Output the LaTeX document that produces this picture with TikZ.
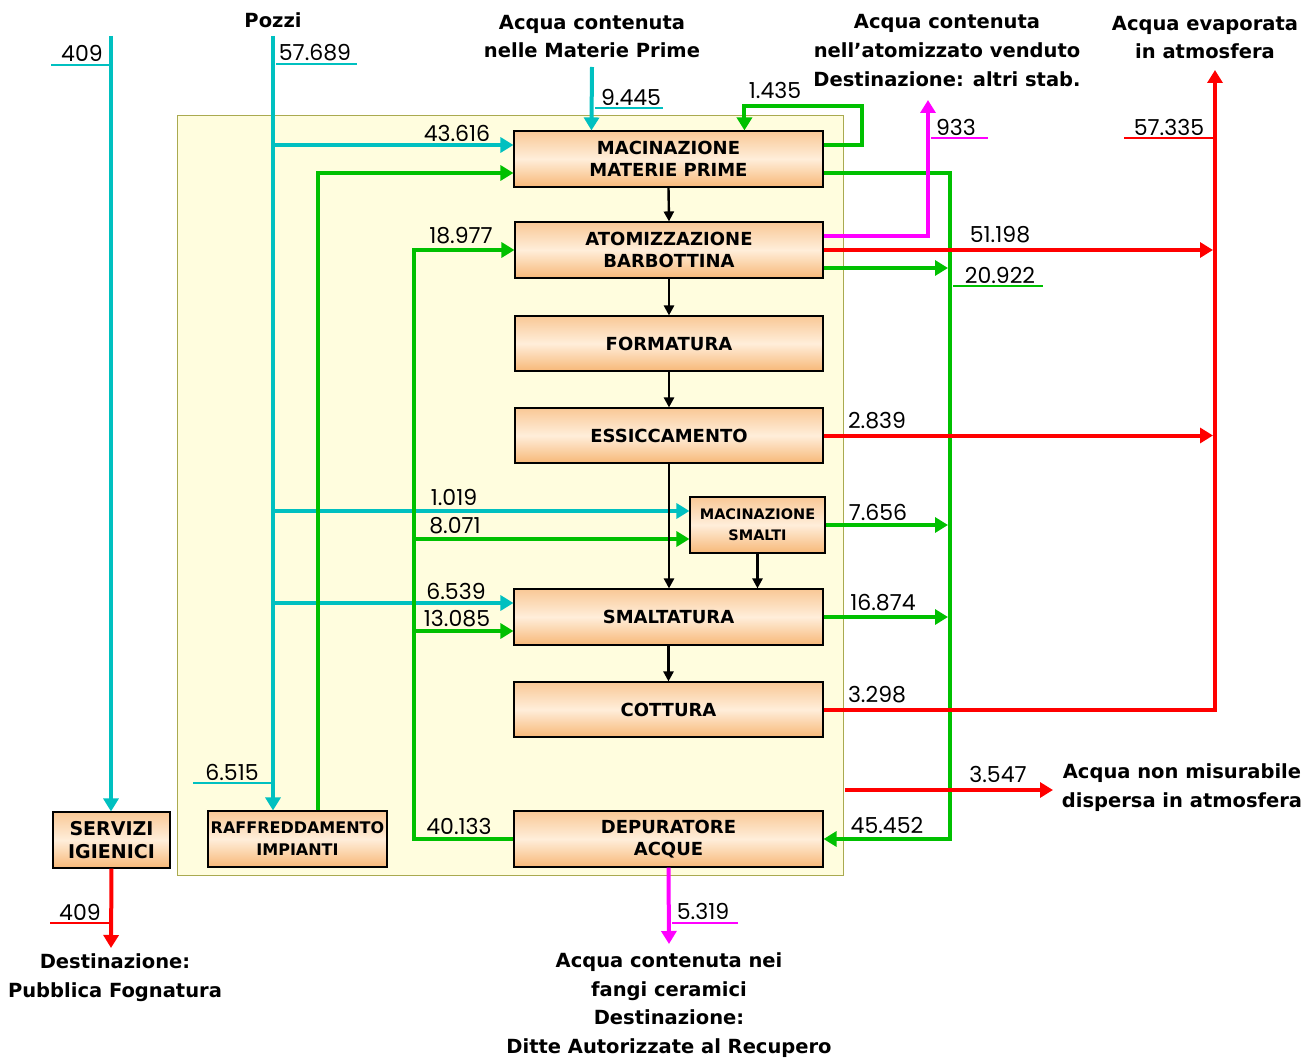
\documentclass[tikz,border=0pt]{standalone}
\usepackage{fontspec}
\setmainfont{DejaVu Sans}
\newfontfamily\numfont{Poppins}
\usetikzlibrary{arrows.meta}
\definecolor{cy}{RGB}{0,192,192}
\definecolor{gr}{RGB}{0,192,0}
\definecolor{rd}{RGB}{255,0,0}
\definecolor{mg}{RGB}{255,0,255}
\definecolor{bgy}{RGB}{255,253,222}
\definecolor{bgedge}{RGB}{170,170,80}
\definecolor{btop}{RGB}{249,200,150}
\definecolor{bmid}{RGB}{255,238,218}
\definecolor{bbot}{RGB}{247,184,120}
\begin{document}
\begin{tikzpicture}[x=1pt,y=-1pt,
  tip/.style={-{Triangle[length=13pt,width=15pt]}},
  btip/.style={-{Triangle[length=10pt,width=10pt]}},
  flow/.style={line width=4pt,line join=miter},
  cyf/.style={flow,draw=cy},
  grf/.style={flow,draw=gr},
  rdf/.style={flow,draw=rd},
  mgf/.style={flow,draw=mg},
  blk/.style={line width=2.4pt,draw=black,btip},
  uline/.style={line width=1.3pt},
  proc/.style={draw=black,line width=1.1pt,top color=btop,bottom color=bbot,middle color=bmid,
    minimum height=56pt,align=center,inner sep=0pt,
    font=\bfseries\fontsize{18}{22.5}\selectfont},
  num/.style={font=\numfont\fontsize{22}{22}\selectfont,inner sep=0pt},
  ttl/.style={font=\bfseries\fontsize{19.5}{28.7}\selectfont,align=center,inner sep=0pt}
]
\useasboundingbox (0,0) rectangle (1307,1059);
% background area
\node[draw=bgedge,fill=bgy,line width=1pt,minimum width=666pt,minimum height=759pt,inner sep=0pt] (area) at (510,495.5) {};

% process boxes
\node[proc,minimum width=309pt] (mmp) at (668.5,159) {MACINAZIONE\\MATERIE PRIME};
\node[proc,minimum width=308pt] (atb) at (669,250) {ATOMIZZAZIONE\\BARBOTTINA};
\node[proc,minimum width=308pt,minimum height=55pt] (form) at (669,343.5) {FORMATURA};
\node[proc,minimum width=308pt,minimum height=55pt] (ess) at (669,435.5) {ESSICCAMENTO};
\node[proc,minimum width=135pt,font=\bfseries\fontsize{14.5}{21}\selectfont] (msm) at (757.5,525) {MACINAZIONE\\SMALTI};
\node[proc,minimum width=309pt] (sma) at (668.5,617) {SMALTATURA};
\node[proc,minimum width=309pt,minimum height=55pt] (cot) at (668.5,709.5) {COTTURA};
\node[proc,minimum width=309pt] (dep) at (668.5,839) {DEPURATORE\\ACQUE};
\node[proc,minimum width=117pt,font=\bfseries\fontsize{19}{22.5}\selectfont] (serv) at (111.5,840) {SERVIZI\\IGIENICI};
\node[proc,minimum width=179pt,font=\bfseries\fontsize{16}{22}\selectfont] (raff) at (297.5,839) {RAFFREDDAMENTO\\IMPIANTI};

% titles
\node[ttl] (pozzi) at (273,20) {Pozzi};
\node[ttl] (tmp) at (592,36.5) {Acqua contenuta\\nelle Materie Prime};
\node[ttl] (tatom) at (947,50.5) {Acqua contenuta\\nell'atomizzato venduto\\Destinazione: altri stab.};
\node[ttl] (tevap) at (1205,37.5) {Acqua evaporata\\in atmosfera};
\node[ttl] (tdisp) at (1182,787.5) {Acqua non misurabile\\dispersa in atmosfera};
\node[ttl] (tfogn) at (115,977.5) {Destinazione:\\Pubblica Fognatura};
\node[ttl] (tfang) at (669,1005) {Acqua contenuta nei\\fangi ceramici\\Destinazione:\\Ditte Autorizzate al Recupero};

% coordinates
\coordinate (s409) at (111,36);
\coordinate (pz) at (273,36);
\coordinate (mp) at (592,67);
\coordinate (mmpcy) at ([yshift=14pt]mmp.west);
\coordinate (mmpgr) at ([yshift=-14pt]mmp.west);
\coordinate (mmptopcy) at ([xshift=78pt]mmp.north west);
\coordinate (mmptopgr) at ([xshift=231pt]mmp.north west);
\coordinate (mmpout1) at ([yshift=14pt]mmp.east);
\coordinate (mmpout2) at ([yshift=-14pt]mmp.east);
\coordinate (atbmg) at ([yshift=14pt]atb.east);
\coordinate (atbgr) at ([yshift=-18pt]atb.east);
\coordinate (msmcy) at ([yshift=14pt]msm.west);
\coordinate (msmgr) at ([yshift=-14pt]msm.west);
\coordinate (smacy) at ([yshift=14pt]sma.west);
\coordinate (smagr) at ([yshift=-14pt]sma.west);
\coordinate (raffgr) at ([xshift=20.5pt]raff.north);
\coordinate (gx) at (950,0);
\coordinate (gl) at (414,0);
\coordinate (rx) at (1215,0);
\coordinate (mgx) at (928,0);
\coordinate (rtop) at (1215,70);
\coordinate (mgtop) at (928,100);
\coordinate (r3s) at (845,790);
\coordinate (r3e) at (1053,790);
\coordinate (loopx) at (862,106);
\coordinate (depend) at (669,944);
\coordinate (servend) at (111,948);

% cyan flows
\draw[cyf,tip] (s409) -- (s409 |- serv.north);
\draw[cyf,tip] (pz) -- (pz |- raff.north);
\draw[cyf,tip] (pz |- mmpcy) -- (mmpcy);
\draw[cyf,tip] (pz |- msmcy) -- (msmcy);
\draw[cyf,tip] (pz |- smacy) -- (smacy);
\draw[cyf,tip] (mp) -- (mmptopcy);

% green flows
\draw[grf,tip] (raffgr) -- (raffgr |- mmpgr) -- (mmpgr);
\draw[grf,tip] (mmpout1) -- (loopx |- mmpout1) -- (loopx) -- (mmptopgr |- loopx) -- (mmptopgr);
\draw[grf,tip] (mmpout2) -- (gx |- mmpout2) -- (gx |- dep.east) -- (dep.east);
\draw[grf,tip] (atbgr) -- ([xshift=-2pt]gx |- atbgr);
\draw[grf,tip] (msm.east) -- ([xshift=-2pt]gx |- msm.east);
\draw[grf,tip] (sma.east) -- ([xshift=-2pt]gx |- sma.east);
\draw[grf,tip] (dep.west) -- (gl |- dep.west) -- (gl |- atb.west) -- (atb.west);
\draw[grf,tip] (gl |- msmgr) -- (msmgr);
\draw[grf,tip] (gl |- smagr) -- (smagr);

% red flows
\draw[rdf,tip] (atb.east) -- ([xshift=-2pt]rx |- atb.east);
\draw[rdf,tip] (ess.east) -- ([xshift=-2pt]rx |- ess.east);
\draw[rdf,tip] (cot.east) -- (rx |- cot.east) -- (rtop);
\draw[rdf,tip] (r3s) -- (r3e);
\draw[rdf,tip] (serv.south) -- (servend);

% magenta flows
\draw[mgf,tip] (atbmg) -- (mgx |- atbmg) -- (mgtop);
\draw[mgf,tip] (dep.south) -- (depend);

% black process arrows
\draw[blk] (mmp.south) -- (atb.north);
\draw[blk] (atb.south) -- (form.north);
\draw[blk] (form.south) -- (ess.north);
\draw[blk] (ess.south) -- (ess.south |- sma.north);
\draw[blk] (msm.south) -- (msm.south |- sma.north);
\draw[blk] (sma.south) -- (cot.north);

% numbers
\node[num] (n1) at (82,53) {409};
\node[num] (n2) at (315,53) {57.689};
\node[num] (n3) at (631,97) {9.445};
\node[num] (n4) at (457,133) {43.616};
\node[num] (n5) at (775,90) {1.435};
\node[num] (n6) at (956,127) {933};
\node[num] (n7) at (1169,127) {57.335};
\node[num] (n8) at (1000,235) {51.198};
\node[num] (n9) at (1000,275) {20.922};
\node[num] (n10) at (461,236) {18.977};
\node[num] (n11) at (877,421) {2.839};
\node[num] (n12) at (454,497) {1.019};
\node[num] (n13) at (455,526) {8.071};
\node[num] (n14) at (878,512) {7.656};
\node[num] (n15) at (456,591) {6.539};
\node[num] (n16) at (457,619) {13.085};
\node[num] (n17) at (883,603) {16.874};
\node[num] (n18) at (877,695) {3.298};
\node[num] (n19) at (232,772) {6.515};
\node[num] (n20) at (998,774) {3.547};
\node[num] (n21) at (459,826) {40.133};
\node[num] (n22) at (887,825) {45.452};
\node[num] (n23) at (80,912) {409};
\node[num] (n24) at (703,911) {5.319};

% underlines
\draw[uline,cy] (51,65) -- (111,65);
\draw[uline,cy] (276,64) -- (357,64);
\draw[uline,cy] (595,108) -- (663,108);
\draw[uline,mg] (931,138) -- (988,138);
\draw[uline,rd] (1124,138) -- (1214,138);
\draw[uline,gr] (953,286) -- (1043,286);
\draw[uline,cy] (193,783) -- (273,783);
\draw[uline,rd] (50,923) -- (111,923);
\draw[uline,mg] (672,923) -- (738,923);
\end{tikzpicture}
\end{document}
